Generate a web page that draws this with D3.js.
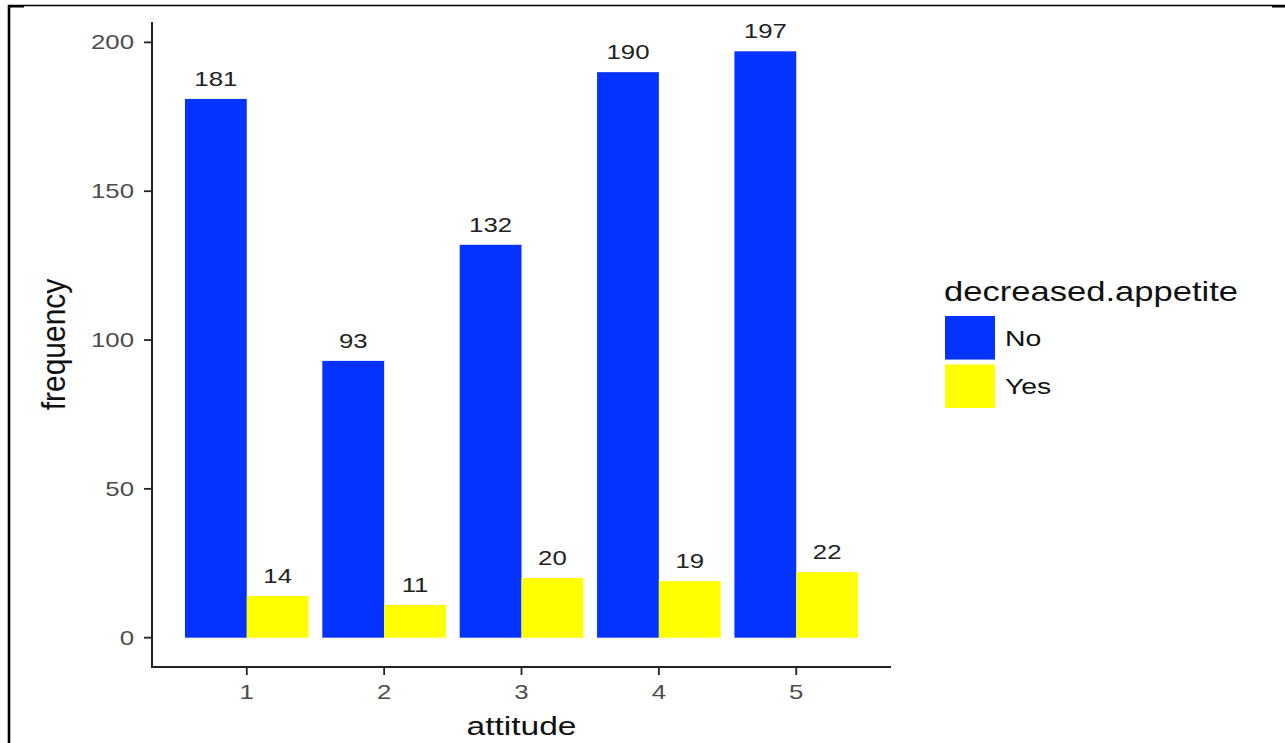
<!DOCTYPE html>
<html>
<head>
<meta charset="utf-8">
<script src="https://cdn.jsdelivr.net/npm/d3@7"></script>
<style>
  html, body { margin: 0; padding: 0; background: #ffffff; }
  svg { display: block; font-family: "Liberation Sans", Arial, Helvetica, sans-serif; }
</style>
</head>
<body>
<svg id="chart" width="1285" height="743"></svg>
<script>
// ---- data ----
const categories = ["1", "2", "3", "4", "5"];
const groups = ["No", "Yes"];
const noValues = [181, 93, 132, 190, 197];
const yesValues = [14, 11, 20, 19, 22];
const yTicks = [0, 50, 100, 150, 200];
const groupColors = ["#0433FF", "#FFFF00"];
const xTitle = "attitude";
const yTitle = "frequency";
const legendTitle = "decreased.appetite";

const rows = [];
categories.forEach((c, i) => {
  rows.push({ cat: c, grp: "No", value: noValues[i] });
  rows.push({ cat: c, grp: "Yes", value: yesValues[i] });
});

// ---- layout ----
const SX = 1.29; // horizontal stretch of glyphs in the reference
const panel = { left: 152, right: 891, top: 22, bottom: 667 };
const svg = d3.select("#chart");

// frame lines of the reference picture
svg.append("line").attr("x1", 8).attr("x2", 1285).attr("y1", 5.5).attr("y2", 5.5)
  .attr("stroke", "#000").attr("stroke-width", 1.6);
svg.append("line").attr("x1", 9).attr("x2", 9).attr("y1", 5).attr("y2", 743)
  .attr("stroke", "#000").attr("stroke-width", 2.6);
svg.append("rect").attr("x", 8).attr("y", 5).attr("width", 16).attr("height", 2.5).attr("fill", "#000");
svg.append("rect").attr("x", 1272).attr("y", 5).attr("width", 13).attr("height", 2.5).attr("fill", "#000");

const maxV = d3.max(rows, d => d.value);
const y = d3.scaleLinear()
  .domain([-0.05 * maxV, maxV * 1.05])
  .range([panel.bottom, panel.top]);

const x = d3.scalePoint()
  .domain(categories)
  .range([panel.left, panel.right])
  .padding(0.69);

const dodgeW = x.step() * 0.9;
const xg = d3.scaleBand().domain(groups).range([-dodgeW / 2, dodgeW / 2]);
const color = d3.scaleOrdinal().domain(groups).range(groupColors);

// bars
svg.append("g").selectAll("rect").data(rows).join("rect")
  .attr("x", d => x(d.cat) + xg(d.grp))
  .attr("width", xg.bandwidth())
  .attr("y", d => y(d.value))
  .attr("height", d => y(0) - y(d.value))
  .attr("fill", d => color(d.grp));

// value labels
svg.append("g").selectAll("text").data(rows).join("text")
  .attr("transform", d => `translate(${x(d.cat) + xg(d.grp) + xg.bandwidth() / 2},${y(d.value) - 13}) scale(${SX},1)`)
  .attr("text-anchor", "middle")
  .attr("font-size", 20)
  .attr("fill", "#222")
  .text(d => d.value);

// axes
const axisColor = "#222";
// y axis
const gy = svg.append("g");
gy.append("line").attr("x1", panel.left).attr("x2", panel.left)
  .attr("y1", panel.top).attr("y2", panel.bottom + 1)
  .attr("stroke", axisColor).attr("stroke-width", 2);
gy.selectAll("line.tick").data(yTicks).join("line").attr("class", "tick")
  .attr("x1", panel.left - 8).attr("x2", panel.left)
  .attr("y1", d => y(d)).attr("y2", d => y(d))
  .attr("stroke", axisColor).attr("stroke-width", 1.8);
gy.selectAll("text").data(yTicks).join("text")
  .attr("transform", d => `translate(134,${y(d) + 7}) scale(${SX},1)`)
  .attr("text-anchor", "end")
  .attr("font-size", 20)
  .attr("fill", "#4d4d4d")
  .text(d => d);

// x axis
const gx = svg.append("g");
gx.append("line").attr("x1", panel.left - 1).attr("x2", panel.right)
  .attr("y1", panel.bottom).attr("y2", panel.bottom)
  .attr("stroke", axisColor).attr("stroke-width", 2);
gx.selectAll("line.tick").data(categories).join("line").attr("class", "tick")
  .attr("x1", d => x(d)).attr("x2", d => x(d))
  .attr("y1", panel.bottom).attr("y2", panel.bottom + 8)
  .attr("stroke", axisColor).attr("stroke-width", 1.8);
gx.selectAll("text").data(categories).join("text")
  .attr("transform", d => `translate(${x(d)},699) scale(${SX},1)`)
  .attr("text-anchor", "middle")
  .attr("font-size", 20)
  .attr("fill", "#4d4d4d")
  .text(d => d);

// axis titles
svg.append("text")
  .attr("transform", `translate(${(panel.left + panel.right) / 2},735) scale(${SX},1)`)
  .attr("text-anchor", "middle")
  .attr("font-size", 26)
  .attr("fill", "#111")
  .text(xTitle);
svg.append("text")
  .attr("transform", `translate(65,${(panel.top + panel.bottom) / 2}) rotate(-90) scale(1,1.1)`)
  .attr("text-anchor", "middle")
  .attr("font-size", 30)
  .attr("fill", "#111")
  .text(yTitle);

// legend
const lg = svg.append("g");
lg.append("text")
  .attr("transform", `translate(944,301) scale(${SX},1)`)
  .attr("font-size", 26.8)
  .attr("fill", "#111")
  .text(legendTitle);
const keyY = d3.scaleBand().domain(groups).range([316, 408]).paddingInner(0.1);
lg.selectAll("rect").data(groups).join("rect")
  .attr("x", 945).attr("width", 50)
  .attr("y", d => keyY(d)).attr("height", keyY.bandwidth())
  .attr("fill", d => color(d));
lg.selectAll("text.lab").data(groups).join("text").attr("class", "lab")
  .attr("transform", d => `translate(1005,${keyY(d) + keyY.bandwidth() / 2 + 8}) scale(${SX},1)`)
  .attr("font-size", 22)
  .attr("fill", "#111")
  .text(d => d);
</script>
</body>
</html>
